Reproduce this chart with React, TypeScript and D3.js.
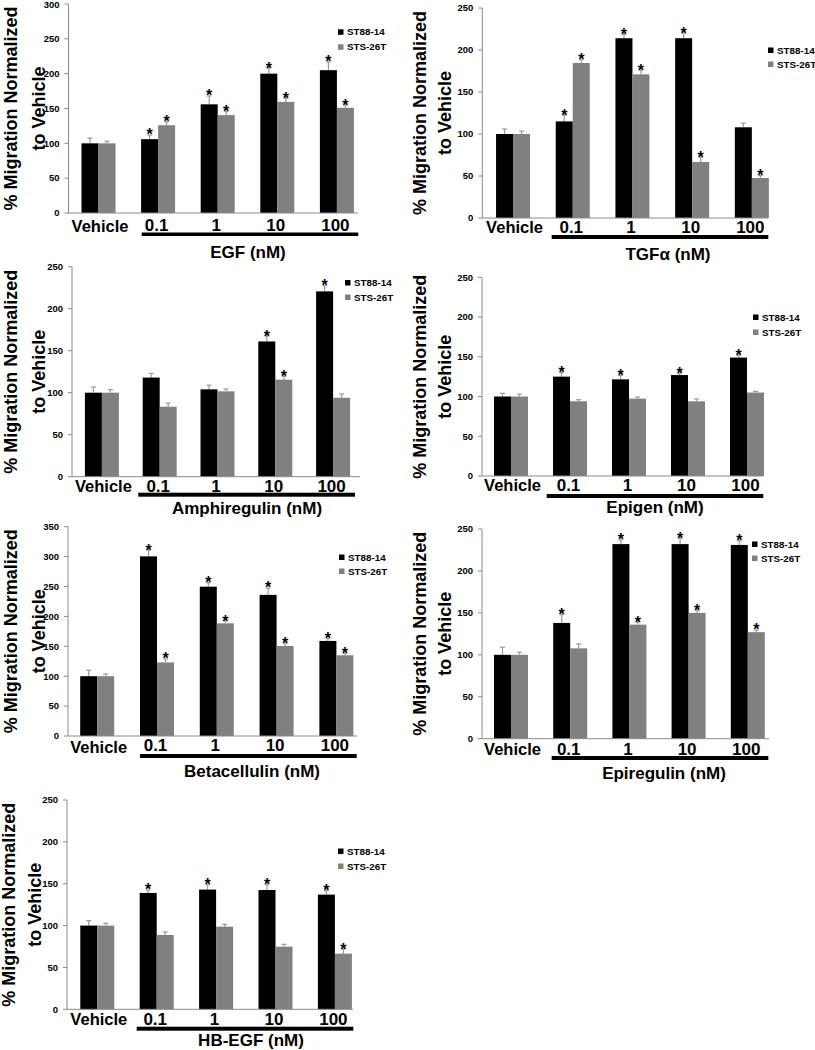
import React from "react";
import * as d3 from "d3";

// ---------- DATA ----------
const categories = ["Vehicle", "0.1", "1", "10", "100"];
const seriesNames = ["ST88-14", "STS-26T"];
const factors = ["EGF", "TGFα", "Amphiregulin", "Epigen", "Betacellulin", "Epiregulin", "HB-EGF"];
const yMaxes = [300, 250, 250, 250, 350, 250, 250];

// ST88-14 (black) means / error
const egfST88 = [100, 106, 156, 200, 205];
const egfST88Err = [7.5, 6, 12, 8, 12];
const egfSTS = [100, 126, 140.5, 159.5, 151];
const egfSTSErr = [3, 5, 5.5, 5.5, 4];
const egfSigST88 = [0, 1, 1, 1, 1];
const egfSigSTS = [0, 1, 1, 1, 1];

const tgfST88 = [100, 115, 214, 214, 108];
const tgfST88Err = [6, 7.5, 4.5, 6, 5];
const tgfSTS = [100, 184.5, 171, 66.7, 47.6];
const tgfSTSErr = [3.5, 4, 5, 5.5, 3];
const tgfSigST88 = [0, 1, 1, 1, 0];
const tgfSigSTS = [0, 1, 1, 1, 1];

const arST88 = [100, 118, 104, 161, 220.6];
const arST88Err = [6.7, 5, 5, 6.5, 6.8];
const arSTS = [100, 83.3, 101.6, 115.5, 94];
const arSTSErr = [3.6, 4.4, 2.8, 3.9, 4.4];
const arSigST88 = [0, 0, 0, 1, 1];
const arSigSTS = [0, 0, 0, 1, 0];

const epgST88 = [100, 125, 121.6, 127, 149];
const epgST88Err = [4, 5, 5, 2, 3];
const epgSTS = [100, 94, 97.3, 94, 105];
const epgSTSErr = [3, 2, 2, 3, 1.5];
const epgSigST88 = [0, 1, 1, 1, 1];
const epgSigSTS = [0, 0, 0, 0, 0];

const btcST88 = [100, 300.4, 249.7, 236, 159];
const btcST88Err = [10, 10.5, 6.7, 11.5, 4];
const btcSTS = [100, 123, 188.4, 150.5, 135];
const btcSTSErr = [3.7, 5.8, 3.9, 4.5, 3];
const btcSigST88 = [0, 1, 1, 1, 1];
const btcSigSTS = [0, 1, 1, 1, 1];

const eprST88 = [100, 138, 232, 232, 231];
const eprST88Err = [9, 10, 5, 7, 5];
const eprSTS = [100, 107.7, 136, 150, 127];
const eprSTSErr = [3, 5.3, 3, 3, 2.6];
const eprSigST88 = [0, 1, 1, 1, 1];
const eprSigSTS = [0, 0, 1, 1, 1];

const hbST88 = [100, 139, 143, 142.5, 137];
const hbST88Err = [6, 3.5, 6, 6.5, 4.7];
const hbSTS = [100, 88.8, 98.7, 74.8, 66.5];
const hbSTSErr = [2.7, 3.6, 2.8, 2.8, 5.5];
const hbSigST88 = [0, 1, 1, 1, 1];
const hbSigSTS = [0, 0, 0, 0, 1];

const panelData = [
  [egfST88, egfST88Err, egfSigST88, egfSTS, egfSTSErr, egfSigSTS],
  [tgfST88, tgfST88Err, tgfSigST88, tgfSTS, tgfSTSErr, tgfSigSTS],
  [arST88, arST88Err, arSigST88, arSTS, arSTSErr, arSigSTS],
  [epgST88, epgST88Err, epgSigST88, epgSTS, epgSTSErr, epgSigSTS],
  [btcST88, btcST88Err, btcSigST88, btcSTS, btcSTSErr, btcSigSTS],
  [eprST88, eprST88Err, eprSigST88, eprSTS, eprSTSErr, eprSigSTS],
  [hbST88, hbST88Err, hbSigST88, hbSTS, hbSTSErr, hbSigSTS],
];

// ---------- LAYOUT ----------
type Layout = {
  axisX: number; axisEnd: number; bandStart: number; step: number;
  y0: number; yTop: number;
  legX: number; legY1: number; legY2: number;
  tx1: number; tx2: number;
  vehOff: number; numOff: number; ulTop: number; ulBot: number; ulX0: number; ulX1: number;
  titleX: number; titleOff: number;
};

const layouts: Layout[] = [
  { axisX: 68.5, axisEnd: 358, bandStart: 68.7, step: 59.6, y0: 213, yTop: 4, legX: 338, legY1: 35.3, legY2: 50.3, tx1: 17, tx2: 44.7, vehOff: 19, numOff: 18, ulTop: 19.5, ulBot: 23, ulX0: 141.7, ulX1: 358.3, titleX: 248, titleOff: 45 },
  { axisX: 482.3, axisEnd: 768, bandStart: 483.2, step: 59.7, y0: 218, yTop: 8, legX: 768, legY1: 53.5, legY2: 67.5, tx1: 426, tx2: 451, vehOff: 14.5, numOff: 14.5, ulTop: 17, ulBot: 21, ulX0: 551.7, ulX1: 768.3, titleX: 668, titleOff: 42 },
  { axisX: 72, axisEnd: 360, bandStart: 73, step: 57.8, y0: 476.7, yTop: 266.7, legX: 345, legY1: 286, legY2: 300.5, tx1: 17, tx2: 45, vehOff: 15, numOff: 15, ulTop: 16, ulBot: 20, ulX0: 138.3, ulX1: 355, titleX: 247, titleOff: 37.3 },
  { axisX: 482, axisEnd: 763, bandStart: 481.5, step: 59, y0: 476, yTop: 277.3, legX: 753, legY1: 320.5, legY2: 335.5, tx1: 426, tx2: 451, vehOff: 15, numOff: 15, ulTop: 18, ulBot: 22, ulX0: 546.7, ulX1: 763.3, titleX: 655, titleOff: 37.3 },
  { axisX: 68, axisEnd: 357, bandStart: 67.3, step: 59.8, y0: 736, yTop: 526.7, legX: 339, legY1: 560.5, legY2: 574.5, tx1: 17, tx2: 45, vehOff: 17, numOff: 15, ulTop: 18, ulBot: 22, ulX0: 140, ulX1: 356.7, titleX: 252, titleOff: 40.7 },
  { axisX: 482, axisEnd: 769, bandStart: 481.4, step: 59.2, y0: 738.7, yTop: 529, legX: 752, legY1: 547.5, legY2: 561.5, tx1: 426, tx2: 451, vehOff: 16.3, numOff: 16.3, ulTop: 17.3, ulBot: 21.3, ulX0: 551.7, ulX1: 768.3, titleX: 664, titleOff: 40.6 },
  { axisX: 67, axisEnd: 353, bandStart: 67.6, step: 59.4, y0: 1009.3, yTop: 800, legX: 338, legY1: 854.5, legY2: 869.5, tx1: 14.5, tx2: 41, vehOff: 16, numOff: 16, ulTop: 17.4, ulBot: 21.4, ulX0: 136.7, ulX1: 353.3, titleX: 251, titleOff: 36.5 },
];

const FONT = "'Liberation Sans', Arial, Helvetica, sans-serif";
const BLACK = "#000000";
const GRAY = "#808080";
const AXIS = "#8a8a8a";
const ERR = "#9a9a9a";
const BAR_W = 17;

function Panel({ idx }: { idx: number }) {
  const L = layouts[idx];
  const [bm, be, bs, gm, ge, gs] = panelData[idx];
  const yMax = yMaxes[idx];
  const y = d3.scaleLinear().domain([0, yMax]).range([L.y0, L.yTop]);
  const x = d3.scaleBand<string>().domain(categories).range([L.bandStart, L.bandStart + categories.length * L.step]).padding(0);
  const ticks = d3.range(0, yMax + 1, 50);
  const yMid = (L.y0 + L.yTop) / 2;

  const series = [
    { m: bm, e: be, s: bs, color: BLACK, off: -BAR_W },
    { m: gm, e: ge, s: gs, color: GRAY, off: 0 },
  ];

  return (
    <g>
      {/* Y title */}
      <text transform={`translate(${L.tx1},${yMid}) rotate(-90)`} textAnchor="middle" fontFamily={FONT} fontWeight="bold" fontSize={18}>% Migration Normalized</text>
      <text transform={`translate(${L.tx2},${yMid}) rotate(-90)`} textAnchor="middle" fontFamily={FONT} fontWeight="bold" fontSize={18}>to Vehicle</text>

      {/* Y axis */}
      <line x1={L.axisX} x2={L.axisX} y1={y(yMax)} y2={y(0)} stroke={AXIS} strokeWidth={1} />
      {ticks.map((t) => (
        <g key={t}>
          <line x1={L.axisX - 4} x2={L.axisX} y1={y(t)} y2={y(t)} stroke={AXIS} strokeWidth={1} />
          <text x={L.axisX - 9} y={Math.max(y(t), 5)} dy="0.35em" textAnchor="end" fontFamily={FONT} fontWeight="bold" fontSize={9.5}>{t}</text>
        </g>
      ))}

      {/* Bars */}
      {series.map((sr, si) =>
        categories.map((c, i) => {
          const cx = (x(c) as number) + x.bandwidth() / 2;
          const bx = cx + sr.off;
          const top = y(sr.m[i]);
          const et = y(sr.m[i] + sr.e[i]);
          const ex = bx + BAR_W / 2;
          return (
            <g key={`${si}-${i}`}>
              <line x1={ex} x2={ex} y1={top} y2={et} stroke={ERR} strokeWidth={1.2} />
              <line x1={ex - 2.5} x2={ex + 2.5} y1={et} y2={et} stroke={ERR} strokeWidth={1.2} />
              <rect x={bx} y={top} width={BAR_W} height={y(0) - top} fill={sr.color} />
              {sr.s[i] ? (
                <text x={ex} y={et + 5.5} textAnchor="middle" fontFamily={FONT} fontWeight="bold" fontSize={16}>*</text>
              ) : null}
            </g>
          );
        })
      )}

      {/* X axis */}
      <line x1={L.axisX} x2={L.axisEnd} y1={L.y0} y2={L.y0} stroke={AXIS} strokeWidth={1} />

      {/* Category labels */}
      {categories.map((c, i) => {
        const cx = (x(c) as number) + x.bandwidth() / 2;
        const isVeh = i === 0;
        return (
          <text key={c} x={isVeh ? cx + 1.5 : cx - 1.5} y={L.y0 + (isVeh ? L.vehOff : L.numOff)} textAnchor="middle" fontFamily={FONT} fontWeight="bold" fontSize={isVeh ? 16.5 : 17}>{c}</text>
        );
      })}
      <rect x={L.ulX0} y={L.y0 + L.ulTop} width={L.ulX1 - L.ulX0} height={L.ulBot - L.ulTop} fill={BLACK} />
      <text x={L.titleX} y={L.y0 + L.titleOff} textAnchor="middle" fontFamily={FONT} fontWeight="bold" fontSize={17}>{`${factors[idx]} (nM)`}</text>

      {/* Legend */}
      {seriesNames.map((n, i) => {
        const by = i === 0 ? L.legY1 : L.legY2;
        return (
          <g key={n}>
            <rect x={L.legX} y={by - 6} width={5.5} height={5.5} fill={i === 0 ? BLACK : GRAY} />
            <text x={L.legX + 9} y={by} fontFamily={FONT} fontWeight="bold" fontSize={9.8}>{n}</text>
          </g>
        );
      })}
    </g>
  );
}

export default function App() {
  return (
    <svg width={815} height={1050} viewBox="0 0 815 1050" style={{ position: "absolute", left: 0, top: 0, background: "#fff" }}>
      <rect x={0} y={0} width={815} height={1050} fill="#fff" />
      {factors.map((f, i) => (
        <Panel key={f} idx={i} />
      ))}
    </svg>
  );
}
